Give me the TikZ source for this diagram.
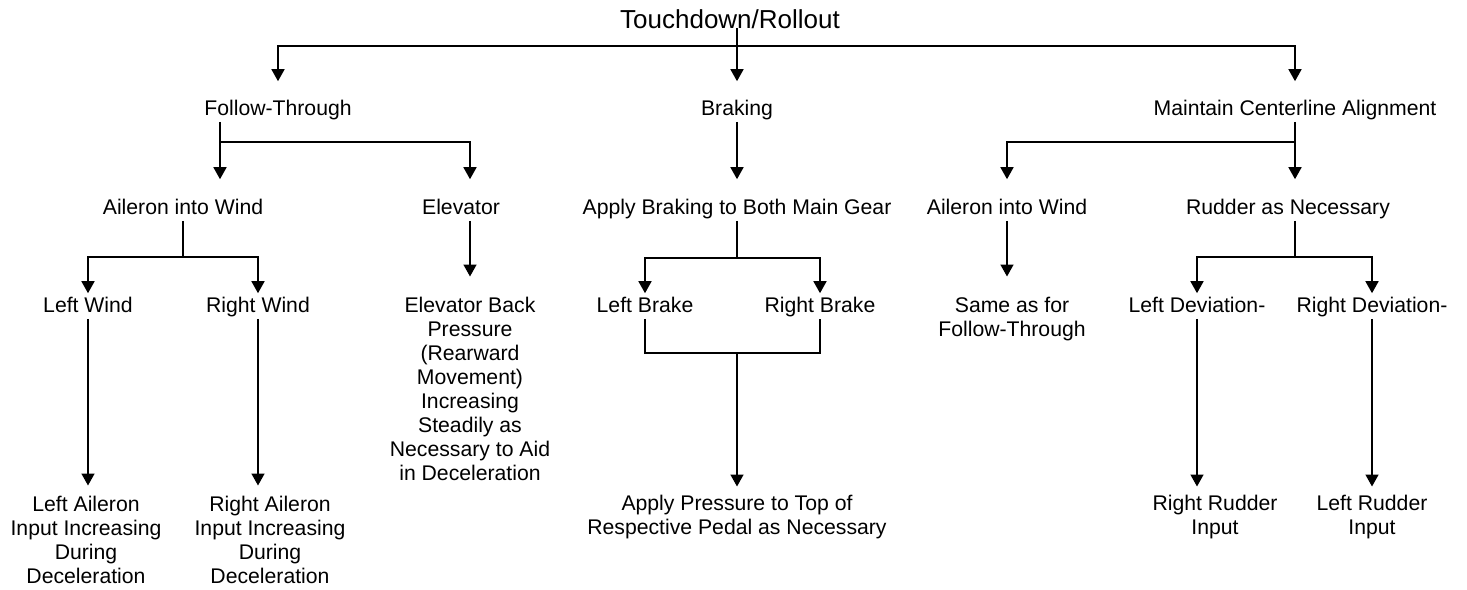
\documentclass[tikz,border=0pt]{standalone}
\usepackage{fontspec}
\setmainfont{Liberation Sans}
\usetikzlibrary{arrows.meta}
\begin{document}
\begin{tikzpicture}[
    x=0.5pt, y=-0.5pt,
    lbl/.style={font=\fontsize{10.6pt}{12pt}\selectfont, inner sep=0pt, text height=8pt, text depth=3pt, anchor=base},
    txt/.style={font=\fontsize{10.6pt}{12pt}\selectfont, inner sep=0pt, align=center, anchor=north},
    tip/.style={-{Triangle[length=6pt,width=6.5pt]}},
    every path/.style={line width=0.8pt}
]
    \useasboundingbox (0,0) rectangle (1467,589);
    \node[lbl, font=\fontsize{13pt}{15pt}\selectfont] (title) at (730,28) {Touchdown/Rollout};
    \node[lbl] (ft) at (278,115) {Follow-Through};
    \node[lbl] (brk) at (737,115) {Braking};
    \node[lbl] (mca) at (1295,115) {Maintain Centerline Alignment};
    \node[lbl] (aw1) at (183,214) {Aileron into Wind};
    \node[lbl] (elv) at (461,214) {Elevator};
    \node[lbl] (abm) at (737,214) {Apply Braking to Both Main Gear};
    \node[lbl] (aw2) at (1007,214) {Aileron into Wind};
    \node[lbl] (rud) at (1288,214) {Rudder as Necessary};
    \node[lbl] (lw) at (88,312) {Left Wind};
    \node[lbl] (rw) at (258,312) {Right Wind};
    \node[lbl] (lb) at (645,312) {Left Brake};
    \node[lbl] (rb) at (820,312) {Right Brake};
    \node[lbl] (ld) at (1197,312) {Left Deviation-};
    \node[lbl] (rd) at (1372,312) {Right Deviation-};
    \node[txt] (ebp) at (470,296.5) {Elevator Back\\Pressure\\(Rearward\\Movement)\\Increasing\\Steadily as\\Necessary to Aid\\in Deceleration};
    \node[txt] (same) at (1012,296.5) {Same as for\\Follow-Through};
    \node[txt] (lai) at (86,495.5) {Left Aileron\\Input Increasing\\During\\Deceleration};
    \node[txt] (rai) at (270,495.5) {Right Aileron\\Input Increasing\\During\\Deceleration};
    \node[txt] (app) at (737,494.5) {Apply Pressure to Top of\\Respective Pedal as Necessary};
    \node[txt] (rri) at (1215,494.5) {Right Rudder\\Input};
    \node[txt] (lri) at (1372,494.5) {Left Rudder\\Input};
    \coordinate (tbar) at (737,46);
    \coordinate (ftj) at (220,142);
    \coordinate (mcaj) at (1295,142);
    \coordinate (awj) at (183,257);
    \coordinate (abmj) at (737,258);
    \coordinate (brj) at (737,353);
    \coordinate (rudj) at (1295,257);
    \draw[tip, shorten >=8.5pt] (title.base -| brk.north) -- (brk.north);
    \draw[tip, shorten >=8.5pt] (tbar) -| (ft.north);
    \draw[tip, shorten >=8.5pt] (tbar) -| (mca.north);
    \draw[tip, shorten >=9pt] (ft.south -| ftj) -- (ftj |- aw1.north);
    \draw[tip, shorten >=9pt] (ftj) -| (ebp.north |- elv.north);
    \draw[tip, shorten >=10pt] (elv.south -| ebp.north) -- (ebp.north);
    \draw (aw1.south) -- (awj);
    \draw[tip, shorten >=1pt] (awj) -| (lw.north);
    \draw[tip, shorten >=1pt] (awj) -| (rw.north);
    \draw[tip, shorten >=5pt] (lw.south) -- (lw.south |- lai.north);
    \draw[tip, shorten >=5pt] (rw.south) -- (rw.south |- rai.north);
    \draw[tip, shorten >=9pt] (brk.south) -- (abm.north);
    \draw (abm.south) -- (abmj);
    \draw[tip, shorten >=1pt] (abmj) -| (lb.north);
    \draw[tip, shorten >=1pt] (abmj) -| (rb.north);
    \draw (lb.south) |- (brj) -| (rb.south);
    \draw[tip, shorten >=4pt] (brj) -- (app.north);
    \draw[tip, shorten >=9pt] (mca.south) -- (rud.north -| mca.south);
    \draw[tip, shorten >=9pt] (mcaj) -| (aw2.north);
    \draw[tip, shorten >=10pt] (aw2.south) -- (aw2.south |- same.north);
    \draw (rud.south -| rudj) -- (rudj);
    \draw[tip, shorten >=1pt] (rudj) -| (ld.north);
    \draw[tip, shorten >=1pt] (rudj) -| (rd.north);
    \draw[tip, shorten >=4pt] (ld.south) -- (ld.south |- rri.north);
    \draw[tip, shorten >=4pt] (rd.south) -- (rd.south |- lri.north);
\end{tikzpicture}
\end{document}
